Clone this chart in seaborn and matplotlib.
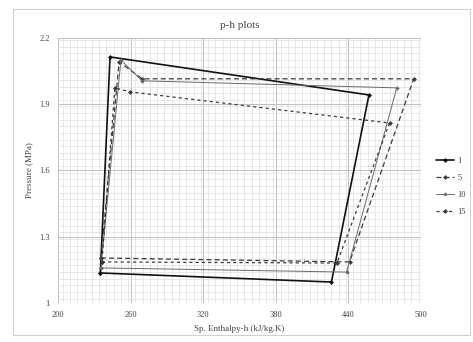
import matplotlib
matplotlib.use("Agg")
import matplotlib.pyplot as plt
import seaborn as sns
import pandas as pd
import numpy as np
from matplotlib.ticker import MultipleLocator
from matplotlib.patches import Rectangle

# Data (cycle points: h in kJ/kg, p in MPa)
h_1 = [235, 426, 457, 243, 235]
p_1 = [1.136, 1.095, 1.942, 2.114, 1.136]
h_5 = [235.5, 441, 494, 269.5, 250.5, 235.5]
p_5 = [1.204, 1.186, 2.015, 2.015, 2.092, 1.204]
h_10 = [235.5, 438.5, 480, 269.5, 252, 235.5]
p_10 = [1.159, 1.140, 1.974, 2.006, 2.100, 1.159]
h_15 = [236.3, 430.5, 474, 259.5, 247, 236.3]
p_15 = [1.186, 1.181, 1.815, 1.956, 1.974, 1.186]
series_names = ["1", "5", "10", "15"]
x_ticks = [200, 260, 320, 380, 440, 500]
y_ticks = [1, 1.3, 1.6, 1.9, 2.2]
y_labels = ["1", "1.3", "1.6", "1.9", "2.2"]

sns.set_theme(style="white")
plt.rcParams['font.family'] = ['Liberation Serif', 'DejaVu Serif']

fig = plt.figure(figsize=(4.73, 3.42), dpi=100)
ax = fig.add_axes([0.1226, 0.114, 0.7674, 0.775])

styles = {
    "1": dict(color="#111111", lw=1.2, ls="-", marker="D", ms=2.5),
    "5": dict(color="#3a3a3a", lw=0.9, ls=(0, (4, 2.5)), marker="D", ms=2.5),
    "10": dict(color="#6a6a6a", lw=0.7, ls="-", marker="D", ms=2.2),
    "15": dict(color="#3a3a3a", lw=0.9, ls=(0, (2.5, 2.5)), marker="D", ms=2.5),
}
data = {"1": (h_1, p_1), "5": (h_5, p_5), "10": (h_10, p_10), "15": (h_15, p_15)}

for name in series_names:
    h, p = data[name]
    df = pd.DataFrame({"h": h, "p": p})
    st = styles[name]
    sns.lineplot(data=df, x="h", y="p", sort=False, estimator=None, ax=ax,
                 color=st["color"], linewidth=st["lw"], linestyle=st["ls"],
                 marker=st["marker"], markersize=st["ms"], markeredgewidth=0,
                 label=name)

ax.set_xlim(200, 500)
ax.set_ylim(1, 2.2)
ax.set_xticks(x_ticks)
ax.set_xticklabels([str(t) for t in x_ticks])
ax.set_yticks(y_ticks)
ax.set_yticklabels(y_labels)
ax.xaxis.set_minor_locator(MultipleLocator(6))
ax.yaxis.set_minor_locator(MultipleLocator(0.03))
ax.grid(which="major", color="#bdbdbd", lw=0.7)
ax.grid(which="minor", color="#dedede", lw=0.5)
ax.set_axisbelow(True)
for s in ax.spines.values():
    s.set_visible(False)
ax.tick_params(axis="both", which="both", length=0, labelsize=6, colors="#444444", pad=6)

ax.set_title("p-h plots", fontsize=8, color="#444444", pad=7)
ax.set_xlabel("Sp. Enthalpy-h (kJ/kg.K)", fontsize=6.5, color="#444444", labelpad=4)
ax.set_ylabel("Pressure (MPa)", fontsize=6.5, color="#444444", labelpad=4)

leg = ax.legend(loc="center left", bbox_to_anchor=(1.02, 0.44), frameon=False,
                fontsize=6, handlelength=2.2, labelspacing=1.1, handletextpad=0.4)
for t in leg.get_texts():
    t.set_color("#444444")

fig.patches.append(Rectangle((0.028, 0.02), 0.966, 0.955, transform=fig.transFigure,
                             fill=False, edgecolor="#d0d0d0", lw=0.8))

fig.savefig("out.png", dpi=100)
